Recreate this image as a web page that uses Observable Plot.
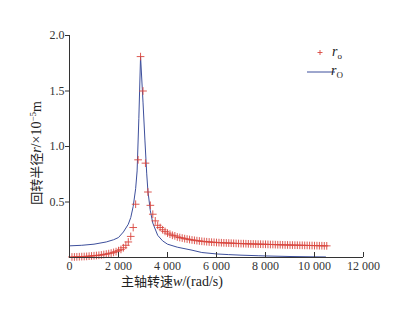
<!DOCTYPE html>
<html><head><meta charset="utf-8">
<script src="https://cdn.jsdelivr.net/npm/d3@7"></script>
<script src="https://cdn.jsdelivr.net/npm/@observablehq/plot@0.6"></script>
<style>
body{margin:0;background:#fff}
#chart{position:relative;width:400px;height:322px}
svg{font-family:"Liberation Serif","Noto Sans CJK SC",serif}
</style>
</head><body><div id="chart"></div>
<script>
const xTicks = [0, 2000, 4000, 6000, 8000, 10000, 12000];
const yTicks = [0.5, 1.0, 1.5, 2.0];

// r_o (crosses): speed (rad/s) and radius (x1e-5 m)
const roSpeed = [100,200,300,400,500,600,700,800,900,1000,
 1100,1200,1300,1400,1500,1600,1700,1800,1900,2000,
 2100,2200,2300,2400,2500,2600,2700,2800,2900,3000,
 3100,3200,3300,3400,3500,3600,3700,3800,3900,4000,
 4100,4200,4300,4400,4500,4600,4700,4800,4900,5000,
 5100,5200,5300,5400,5500,5600,5700,5800,5900,6000,
 6100,6200,6300,6400,6500,6600,6700,6800,6900,7000,
 7100,7200,7300,7400,7500,7600,7700,7800,7900,8000,
 8100,8200,8300,8400,8500,8600,8700,8800,8900,9000,
 9100,9200,9300,9400,9500,9600,9700,9800,9900,10000,
 10100,10200,10300,10400,10500];
const roRadius = [0.005,0.005,0.006,0.007,0.008,0.009,0.010,0.012,0.014,0.016,
 0.018,0.020,0.023,0.027,0.031,0.035,0.040,0.046,0.053,0.062,
 0.073,0.088,0.110,0.140,0.190,0.270,0.480,0.880,1.810,1.500,
 0.850,0.590,0.470,0.390,0.330,0.290,0.270,0.250,0.235,0.220,
 0.210,0.200,0.195,0.185,0.180,0.175,0.170,0.166,0.162,0.158,
 0.155,0.152,0.149,0.146,0.144,0.142,0.140,0.138,0.137,0.135,
 0.134,0.133,0.132,0.131,0.130,0.129,0.128,0.127,0.126,0.125,
 0.125,0.124,0.123,0.122,0.122,0.121,0.120,0.120,0.119,0.119,
 0.118,0.117,0.117,0.116,0.115,0.115,0.114,0.113,0.113,0.112,
 0.112,0.111,0.111,0.110,0.110,0.109,0.109,0.108,0.108,0.107,
 0.107,0.106,0.106,0.105,0.105];

// r_O (line)
const rOSpeed = [0,500,1000,1500,1800,2000,2200,2400,2500,2600,2700,2760,2830,2900,
 3000,3080,3150,3200,3300,3400,3600,3800,4000,4400,5000,5400,6000,6500,7000,7700,8000,9000,10000,10450];
const rORadius = [0.105,0.110,0.120,0.140,0.160,0.180,0.230,0.300,0.360,0.460,0.620,0.780,1.250,1.810,
 1.400,1.050,0.760,0.600,0.420,0.310,0.200,0.150,0.120,0.093,0.066,0.045,0.032,0.026,0.021,0.016,0.014,0.009,0.006,0.005];

const redC = "#d9463e", blueC = "#3d4f9c", axisC = "#333";

const ro = roSpeed.map((w, i) => ({w, r: roRadius[i]}));
const rO = rOSpeed.map((w, i) => ({w, r: rORadius[i]}));

const fmtX = d => d3.format(",")(d).replace(/,/g, " ");

const plot = Plot.plot({
  width: 400, height: 322,
  marginLeft: 69, marginRight: 37, marginTop: 35, marginBottom: 65,
  style: {fontFamily: '"Liberation Serif","Noto Sans CJK SC",serif', fontSize: "12px", color: axisC, background: "#fff"},
  x: {domain: [0, 12000]},
  y: {domain: [0, 2.0]},
  marks: [
    Plot.line(rO, {x: "w", y: "r", stroke: blueC, strokeWidth: 1}),
    Plot.dot(ro, {x: "w", y: "r", symbol: "plus", r: 2.6, stroke: redC, strokeWidth: 0.9}),
    Plot.ruleY([0], {stroke: axisC}),
    Plot.ruleX([0], {stroke: axisC}),
    Plot.axisX({ticks: xTicks, tickFormat: fmtX, tickSize: -5, tickPadding: 9, label: null, fontSize: 12}),
    Plot.axisY({ticks: yTicks, tickFormat: d3.format(".1f"), tickSize: 4, tickPadding: 1, label: null, fontSize: 12})
  ]
});
document.getElementById("chart").appendChild(plot);

const svg = d3.select(plot);
// x-axis label
const xl = svg.append("text").attr("x", 172).attr("y", 286).attr("text-anchor", "middle")
  .attr("font-size", 13).attr("fill", "#222");
xl.append("tspan").text("主轴转速");
xl.append("tspan").attr("font-style", "italic").attr("font-size", 14).text("w");
xl.append("tspan").attr("font-size", 14).text("/(rad/s)");
// y-axis label
const yl = svg.append("text").attr("transform", "translate(41,153) rotate(-90)").attr("text-anchor", "middle")
  .attr("font-size", 13).attr("fill", "#222");
yl.append("tspan").text("回转半径");
yl.append("tspan").attr("font-style", "italic").attr("font-size", 14).text("r");
yl.append("tspan").attr("font-size", 14).text("/×10");
yl.append("tspan").attr("font-size", 9).attr("dy", -5).text("−5");
yl.append("tspan").attr("font-size", 14).attr("dy", 5).text("m");
// legend
const lg = svg.append("g");
lg.append("path").attr("d", "M317.5,52.5h5M320,50v5").attr("stroke", redC).attr("stroke-width", 0.9);
const t1 = lg.append("text").attr("x", 337).attr("y", 56).attr("font-size", 14).attr("fill", "#222");
t1.append("tspan").attr("font-style", "italic").text("r");
t1.append("tspan").attr("font-size", 9).attr("dy", 3).text("o");
lg.append("line").attr("x1", 307).attr("x2", 335).attr("y1", 72).attr("y2", 72).attr("stroke", blueC).attr("stroke-width", 1);
const t2 = lg.append("text").attr("x", 337).attr("y", 75).attr("font-size", 14).attr("fill", "#222");
t2.append("tspan").attr("font-style", "italic").text("r");
t2.append("tspan").attr("font-size", 9).attr("dy", 3).text("O");
</script>
</body></html>
